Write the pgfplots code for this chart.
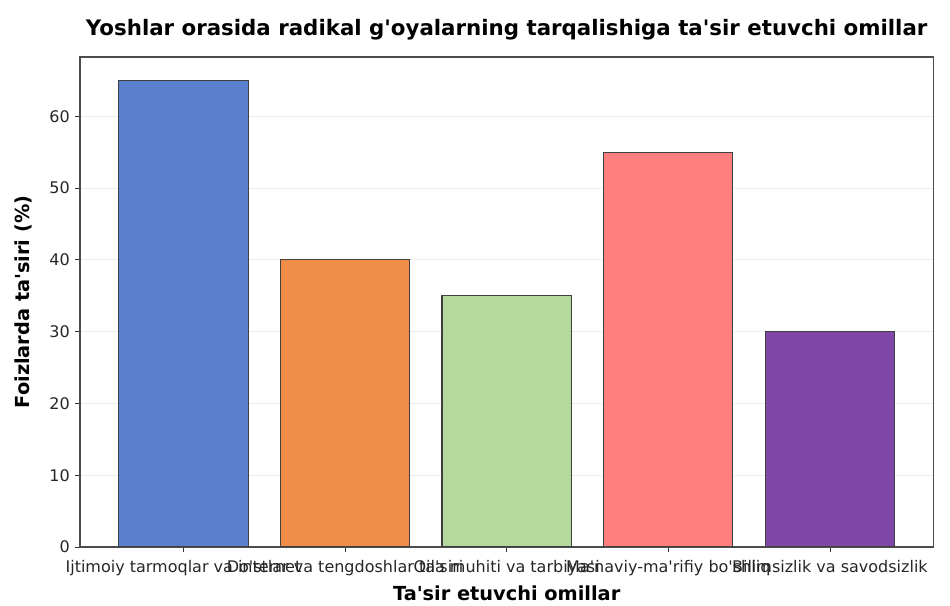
\documentclass[border=0pt]{standalone}
\usepackage{fontspec}
\setmainfont{DejaVu Sans}
\usepackage{pgfplots}
\pgfplotsset{compat=1.18}
\definecolor{c1}{HTML}{5A7FCC}
\definecolor{c2}{HTML}{F08D48}
\definecolor{c3}{HTML}{B5D99C}
\definecolor{c4}{HTML}{FF7F7F}
\definecolor{c5}{HTML}{8047A8}
\newcommand{\q}{\textquotesingle}
\begin{document}
\fontsize{12pt}{14pt}\selectfont
\begin{tikzpicture}
\path[use as bounding box] (0,0) rectangle (712.5pt,454.5pt);
\begin{axis}[
  at={(60pt,44.25pt)}, anchor=south west, scale only axis,
  width=640pt, height=367.5pt,
  xmin=-0.64, xmax=4.64, ymin=0, ymax=68.25,
  xtick={0,1,2,3,4},
  xticklabels={Ijtimoiy tarmoqlar va internet, Do\q stlar va tengdoshlar ta\q siri, Oila muhiti va tarbiyasi, Ma\q naviy-ma\q rifiy bo\q shliq, Bilimsizlik va savodsizlik},
  ytick={0,10,20,30,40,50,60},
  tick align=outside, tick pos=left,
  major tick length=3.5pt,
  tick style={black!80, line width=0.6pt},
  axis line style={black!70, line width=0.8pt},
  ymajorgrids, grid style={black!8, line width=0.5pt},
  /pgf/number format/assume math mode=true,
  ticklabel style={font=\fontsize{12pt}{14pt}\selectfont, text=black!85},
  xticklabel style={yshift=-2pt},
  ybar, bar width=0.8,
  title={\bfseries Yoshlar orasida radikal g\q oyalarning tarqalishiga ta\q sir etuvchi omillar},
  title style={at={(axis description cs:0.5,1)}, anchor=center, yshift=14.5pt, font=\fontsize{16pt}{19pt}\selectfont},
  xlabel={\bfseries Ta\q sir etuvchi omillar},
  xlabel style={at={(axis description cs:0.5,0)}, anchor=center, yshift=-34.5pt, font=\fontsize{14.5pt}{17pt}\selectfont},
  ylabel={\bfseries Foizlarda ta\q siri (\%)},
  ylabel style={at={(axis description cs:-0.0668,0.5)}, anchor=center, font=\fontsize{14.5pt}{17pt}\selectfont},
]
\addplot[fill=c1, draw=black!75, line width=0.8pt, bar shift=0pt] coordinates {(0,65)};
\addplot[fill=c2, draw=black!75, line width=0.8pt, bar shift=0pt] coordinates {(1,40)};
\addplot[fill=c3, draw=black!75, line width=0.8pt, bar shift=0pt] coordinates {(2,35)};
\addplot[fill=c4, draw=black!75, line width=0.8pt, bar shift=0pt] coordinates {(3,55)};
\addplot[fill=c5, draw=black!75, line width=0.8pt, bar shift=0pt] coordinates {(4,30)};
\end{axis}
\end{tikzpicture}
\end{document}
